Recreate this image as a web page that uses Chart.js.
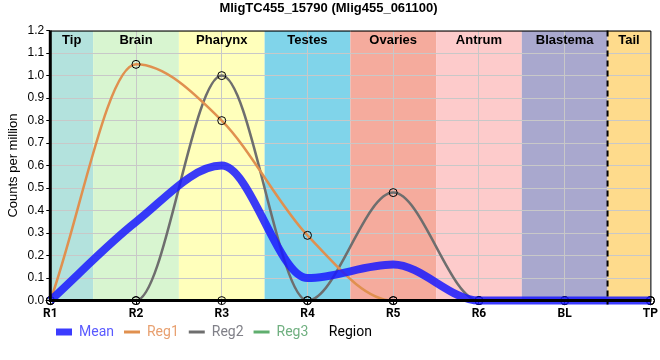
<!DOCTYPE html>
<html>
<head>
<meta charset="utf-8">
<script src="https://cdn.jsdelivr.net/npm/chart.js@4.4.1/dist/chart.umd.min.js"></script>
<style>
  html, body { margin: 0; padding: 0; background: #fff; }
  #wrap { width: 660px; height: 360px; }
</style>
</head>
<body>
<div id="wrap"><canvas id="chart"></canvas></div>
<script>
// Regions along the x axis
const labels = ['R1', 'R2', 'R3', 'R4', 'R5', 'R6', 'BL', 'TP'];

// Series values (counts per million)
const mean = [0, 0.35, 0.6, 0.1, 0.16, 0, 0, 0];
const reg1 = [0, 1.05, 0.8, 0.29, 0, 0, 0, 0];
const reg2 = [0, 0, 1.0, 0, 0.48, 0, 0, 0];
const reg3 = [0, 0, 0, 0, 0, 0, 0, 0];

// Coloured tissue bands: name, start, end (in category units)
const bandNames = ['Tip', 'Brain', 'Pharynx', 'Testes', 'Ovaries', 'Antrum', 'Blastema', 'Tail'];
const bandStart = [0, 0.5, 1.5, 2.5, 3.5, 4.5, 5.5, 6.5];
const bandEnd = [0.5, 1.5, 2.5, 3.5, 4.5, 5.5, 6.5, 7];
const bandColors = ['#b3e2dd', '#d8f5d0', '#ffffbb', '#80d4ea', '#f5ab9d', '#fdcbcb', '#a9a8ce', '#fedb8c'];
const dashedAt = 6.5;

const bandsPlugin = {
  id: 'bands',
  beforeDraw(chart) {
    const { ctx, chartArea, scales } = chart;
    ctx.save();
    for (let i = 0; i < bandNames.length; i++) {
      const x0 = scales.x.getPixelForValue(bandStart[i]);
      const x1 = scales.x.getPixelForValue(bandEnd[i]);
      ctx.fillStyle = bandColors[i];
      ctx.fillRect(x0, chartArea.top, x1 - x0, chartArea.bottom - chartArea.top);
    }
    ctx.restore();
  },
  beforeDatasetsDraw(chart) {
    const { ctx, chartArea, scales } = chart;
    ctx.save();
    ctx.font = 'bold 13px "Liberation Sans", Arial, sans-serif';
    ctx.fillStyle = '#000';
    ctx.textAlign = 'center';
    ctx.textBaseline = 'middle';
    for (let i = 0; i < bandNames.length; i++) {
      const x0 = scales.x.getPixelForValue(bandStart[i]);
      const x1 = scales.x.getPixelForValue(bandEnd[i]);
      ctx.fillText(bandNames[i], (x0 + x1) / 2, chartArea.top + 10);
    }
    ctx.restore();
  },
  afterDatasetsDraw(chart) {
    const { ctx, chartArea, scales } = chart;
    const { left, right, top, bottom } = chartArea;
    ctx.save();
    // dashed separator
    const xd = scales.x.getPixelForValue(dashedAt);
    ctx.strokeStyle = '#000';
    ctx.lineWidth = 2;
    ctx.setLineDash([6, 4]);
    ctx.beginPath();
    ctx.moveTo(xd, top);
    ctx.lineTo(xd, bottom + 4);
    ctx.stroke();
    ctx.setLineDash([]);
    // frame
    ctx.lineWidth = 1;
    ctx.beginPath();
    ctx.moveTo(left, top + 0.5);
    ctx.lineTo(right + 0.5, top + 0.5);
    ctx.lineTo(right + 0.5, bottom);
    ctx.stroke();
    ctx.lineWidth = 3;
    ctx.beginPath();
    ctx.moveTo(left, top);
    ctx.lineTo(left, bottom);
    ctx.lineTo(right + 1, bottom);
    ctx.stroke();
    ctx.restore();
  },
  afterLayout(chart) {
    // pull the legend row closer to the tick labels
    chart.legend.left += 40;
    chart.legend.top -= 8;
    chart.legend.bottom -= 8;
  },
  afterDraw(chart) {
    const { ctx, chartArea } = chart;
    const lg = chart.legend;
    ctx.save();
    ctx.font = '14px Roboto, sans-serif';
    ctx.fillStyle = '#000';
    ctx.textAlign = 'center';
    ctx.textBaseline = 'middle';
    ctx.fillText('Region', (chartArea.left + chartArea.right) / 2, lg.top + lg.height / 2);
    ctx.restore();
  }
};

const markerStyle = {
  pointRadius: 4,
  pointBackgroundColor: 'rgba(0,0,0,0)',
  pointBorderColor: '#000',
  pointBorderWidth: 1
};

const lineColors = ['rgba(25,25,255,0.85)', '#e0904f', '#6e6e6e', '#5fae6e'];
const legendText = ['#5a5aff', '#e8a070', '#808088', '#70b080'];

new Chart(document.getElementById('chart'), {
  type: 'line',
  data: {
    labels: labels,
    datasets: [
      { label: 'Mean', data: mean, borderColor: lineColors[0], backgroundColor: lineColors[0], borderWidth: 8, pointRadius: 0, cubicInterpolationMode: 'monotone' },
      Object.assign({ label: 'Reg1', data: reg1, borderColor: lineColors[1], backgroundColor: lineColors[1], borderWidth: 2.5, cubicInterpolationMode: 'monotone' }, markerStyle),
      Object.assign({ label: 'Reg2', data: reg2, borderColor: lineColors[2], backgroundColor: lineColors[2], borderWidth: 2.5, cubicInterpolationMode: 'monotone' }, markerStyle),
      Object.assign({ label: 'Reg3', data: reg3, borderColor: lineColors[3], backgroundColor: lineColors[3], borderWidth: 2.5, cubicInterpolationMode: 'monotone' }, markerStyle)
    ]
  },
  options: {
    responsive: true,
    maintainAspectRatio: false,
    animation: false,
    clip: false,
    layout: { padding: { left: 6, right: 9, top: 0, bottom: 3 } },
    plugins: {
      title: {
        display: true,
        text: 'MligTC455_15790 (Mlig455_061100)',
        color: '#000',
        font: { family: '"Liberation Sans", Arial, sans-serif', size: 13, weight: 'bold' },
        padding: { top: 1, bottom: 14 }
      },
      legend: {
        position: 'bottom',
        align: 'start',
        labels: {
          usePointStyle: true,
          pointStyleWidth: 16,
          boxHeight: 7,
          padding: 10,
          font: { family: 'Roboto, sans-serif', size: 14 },
          generateLabels(chart) {
            const items = Chart.defaults.plugins.legend.labels.generateLabels(chart);
            items.forEach((it, i) => {
              it.fontColor = legendText[i];
              it.fillStyle = lineColors[i];
              it.strokeStyle = lineColors[i];
              if (i === 0) {
                it.pointStyle = 'rect';
                it.lineWidth = 0;
              } else {
                it.pointStyle = 'line';
                it.lineWidth = 3;
              }
            });
            return items;
          }
        }
      },
      tooltip: { enabled: false }
    },
    scales: {
      x: {
        type: 'category',
        offset: false,
        grid: { color: '#c8c8c8', tickLength: 4, tickColor: '#000' },
        border: { display: false },
        ticks: { color: '#000', font: { family: 'Roboto, sans-serif', size: 12, weight: 'bold' }, padding: 2, maxRotation: 0 }
      },
      y: {
        min: 0,
        max: 1.2,
        grid: { color: '#c8c8c8', tickLength: 4, tickColor: '#000' },
        border: { display: false },
        ticks: { stepSize: 0.1, color: '#000', font: { family: '"Liberation Sans", Arial, sans-serif', size: 12 }, padding: 2, callback: v => v.toFixed(1) },
        title: { display: true, text: 'Counts per million', color: '#000', font: { family: '"Liberation Sans", Arial, sans-serif', size: 13 }, padding: { top: 0, bottom: 4 } }
      }
    }
  },
  plugins: [bandsPlugin]
});
</script>
</body>
</html>
